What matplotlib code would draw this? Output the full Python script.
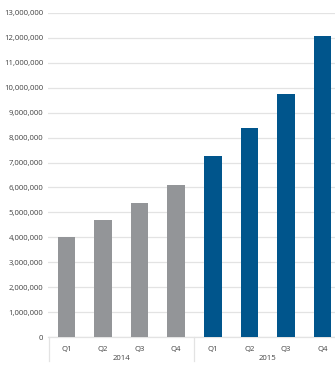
import matplotlib
matplotlib.use("Agg")
import matplotlib.pyplot as plt
from matplotlib.ticker import FuncFormatter, MultipleLocator

quarters = ["Q1", "Q2", "Q3", "Q4", "Q1", "Q2", "Q3", "Q4"]
years = ["2014", "2015"]
values_2014 = [4010000, 4700000, 5380000, 6110000]
values_2015 = [7250000, 8370000, 9770000, 12090000]

W, H = 335, 370
fig = plt.figure(figsize=(W / 100, H / 100), dpi=100)
plt.rcParams['font.family'] = ['Open Sans', 'DejaVu Sans']
text_color = "#444444"
grid_color = "#e3e3e3"

left, right, bottom, top = 48, 335, 337, 13
ax = fig.add_axes([left / W, 1 - bottom / H, (right - left) / W, (bottom - top) / H])

x14 = list(range(4))
x15 = list(range(4, 8))
ax.bar(x14, values_2014, width=0.48, color="#939598", zorder=3)
ax.bar(x15, values_2015, width=0.48, color="#00558c", zorder=3)

ax.set_ylim(0, 13000000)
ax.set_xlim(-0.5, 7.34)
ax.yaxis.set_major_locator(MultipleLocator(1000000))
ax.yaxis.set_major_formatter(FuncFormatter(lambda v, p: f"{int(v):,}"))
ax.grid(axis="y", color=grid_color, linewidth=0.9, zorder=0)
ax.tick_params(axis="y", length=0, pad=3.5, labelsize=5.6, labelcolor=text_color)
ax.tick_params(axis="x", length=0, labelbottom=False)
for s in ["top", "right", "left"]:
    ax.spines[s].set_visible(False)
ax.spines["bottom"].set_color(grid_color)
ax.spines["bottom"].set_linewidth(0.9)

# category labels
trans = ax.get_xaxis_transform()
for i, q in enumerate(quarters):
    ax.text(i, -12 / (bottom - top), q, transform=trans, ha="center", va="center",
            fontsize=5.6, color=text_color, clip_on=False)
for j, yr in enumerate(years):
    ax.text(1.5 + 4 * j, -21 / (bottom - top), yr, transform=trans, ha="center", va="center",
            fontsize=5.6, color=text_color, clip_on=False)
# group separators
for xs in [-0.48, 3.5]:
    ax.plot([xs, xs], [0, -24 / (bottom - top)], transform=trans, color=grid_color,
            linewidth=0.9, clip_on=False)

fig.savefig("out.png", dpi=100)
